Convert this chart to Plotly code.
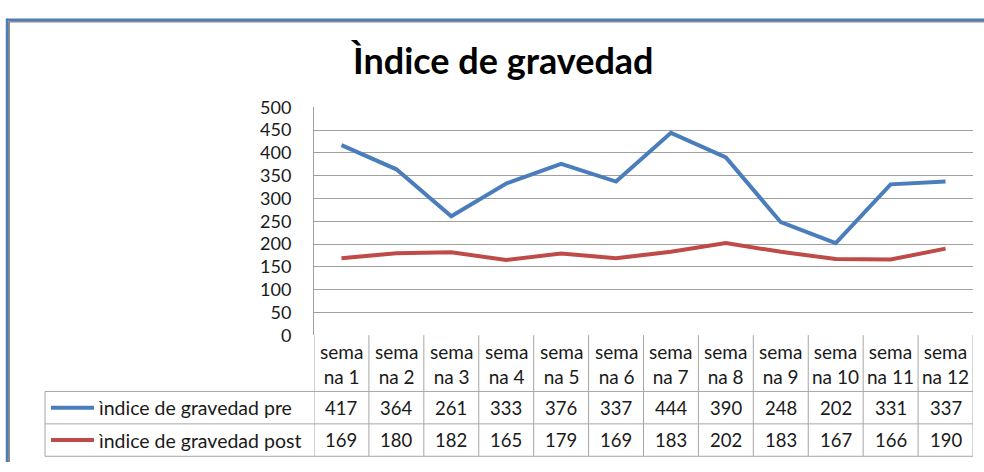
import plotly.graph_objects as go

categories = ["semana 1", "semana 2", "semana 3", "semana 4", "semana 5", "semana 6",
              "semana 7", "semana 8", "semana 9", "semana 10", "semana 11", "semana 12"]
header_labels = ["sema<br>na 1", "sema<br>na 2", "sema<br>na 3", "sema<br>na 4", "sema<br>na 5",
                 "sema<br>na 6", "sema<br>na 7", "sema<br>na 8", "sema<br>na 9", "sema<br>na 10",
                 "sema<br>na 11", "sema<br>na 12"]
pre_name = "ìndice de gravedad pre"
post_name = "ìndice de gravedad post"
pre_values = [417, 364, 261, 333, 376, 337, 444, 390, 248, 202, 331, 337]
post_values = [169, 180, 182, 165, 179, 169, 183, 202, 183, 167, 166, 190]
title_text = "Ìndice de gravedad"

W, H = 984, 472
BLUE = "#4a7ebb"
RED = "#be4b48"
GRID = "#a0a0a0"
TABLE = "#a6a6a6"
FONT = "Lato"
TXT = "#1a1a1a"

def px(x):
    return x / W

def py(y):
    return 1 - y / H

fig = go.Figure()
fig.add_trace(go.Scatter(x=categories, y=pre_values, mode="lines", name=pre_name,
                         line=dict(color=BLUE, width=4)))
fig.add_trace(go.Scatter(x=categories, y=post_values, mode="lines", name=post_name,
                         line=dict(color=RED, width=4)))

n = len(categories)
shapes = []
annotations = []

def seg(x0, y0, x1, y1, color, width):
    return dict(type="line", xref="paper", yref="paper", x0=px(x0), x1=px(x1),
                y0=py(y0), y1=py(y1), line=dict(color=color, width=width), layer="below")

# chart border (top/left visible)
shapes.append(seg(9, 10, W, 10, "#8c8c8c", 2))
shapes.append(seg(9, 10, 9, H, "#8c8c8c", 2))
shapes.append(seg(6, 8, W, 8, BLUE, 2.5))
shapes.append(seg(7, 7, 7, H, BLUE, 2.5))

# table grid
y_head_top, y_head_bot, y_row1_bot, y_row2_bot = 339, 398, 432, 466
for i in range(n + 1):
    shapes.append(dict(type="line", xref="x", yref="paper", x0=i - 0.5, x1=i - 0.5,
                       y0=py(y_head_top), y1=py(y_row2_bot), line=dict(color=TABLE, width=1)))
for yy in (y_head_bot, y_row1_bot, y_row2_bot):
    shapes.append(dict(type="line", xref="paper", yref="paper", x0=px(45), x1=px(973),
                       y0=py(yy), y1=py(yy), line=dict(color=TABLE, width=1)))
shapes.append(dict(type="line", xref="paper", yref="paper", x0=px(45), x1=px(45),
                   y0=py(y_head_bot), y1=py(y_row2_bot), line=dict(color=TABLE, width=1)))

# legend keys in table
for yc, col in ((415, BLUE), (449, RED)):
    shapes.append(dict(type="line", xref="paper", yref="paper", x0=px(51), x1=px(94),
                       y0=py(yc), y1=py(yc), line=dict(color=col, width=4)))
annotations.append(dict(xref="paper", yref="paper", x=px(96), y=py(415), text=pre_name,
                        showarrow=False, xanchor="left", yanchor="middle",
                        font=dict(family=FONT, size=19.5, color=TXT)))
annotations.append(dict(xref="paper", yref="paper", x=px(96), y=py(449), text=post_name,
                        showarrow=False, xanchor="left", yanchor="middle",
                        font=dict(family=FONT, size=19.5, color=TXT)))

for i in range(n):
    annotations.append(dict(xref="x", yref="paper", x=i, y=py(369), text=header_labels[i],
                            showarrow=False, xanchor="center", yanchor="middle",
                            font=dict(family=FONT, size=19, color=TXT)))
    annotations.append(dict(xref="x", yref="paper", x=i, y=py(415), text=str(pre_values[i]),
                            showarrow=False, xanchor="center", yanchor="middle",
                            font=dict(family=FONT, size=18.5, color=TXT)))
    annotations.append(dict(xref="x", yref="paper", x=i, y=py(449), text=str(post_values[i]),
                            showarrow=False, xanchor="center", yanchor="middle",
                            font=dict(family=FONT, size=18.5, color=TXT)))

# title
annotations.append(dict(xref="paper", yref="paper", x=px(502), y=py(50), text="<b>" + title_text + "</b>",
                        showarrow=False, xanchor="center", yanchor="middle",
                        font=dict(family=FONT, size=36, color="#000000")))

fig.update_layout(
    width=W, height=H,
    margin=dict(l=0, r=0, t=0, b=0),
    paper_bgcolor="white", plot_bgcolor="white",
    showlegend=False,
    shapes=shapes, annotations=annotations,
    xaxis=dict(domain=[px(314), px(973)], type="category", range=[-0.5, n - 0.5],
               showticklabels=False, showgrid=False, zeroline=False, showline=False, ticks=""),
    yaxis=dict(domain=[py(339), py(100)], range=[0, 500], dtick=50, tick0=0,
               showgrid=True, gridcolor=GRID, gridwidth=1, zeroline=False,
               showline=True, linecolor=GRID, linewidth=1, ticks="",
               ticklabelstandoff=18,
               tickfont=dict(family=FONT, size=18, color=TXT)),
)

post = ("document.documentElement.style.margin='0';document.documentElement.style.overflow='hidden';"
        "document.body.style.margin='0';document.body.style.padding='0';document.body.style.overflow='hidden';"
        "var d=document.getElementById('{plot_id}');d.style.position='fixed';d.style.left='0px';d.style.top='0px';")

fig.write_html("out.html", post_script=post, config={"displayModeBar": False})
